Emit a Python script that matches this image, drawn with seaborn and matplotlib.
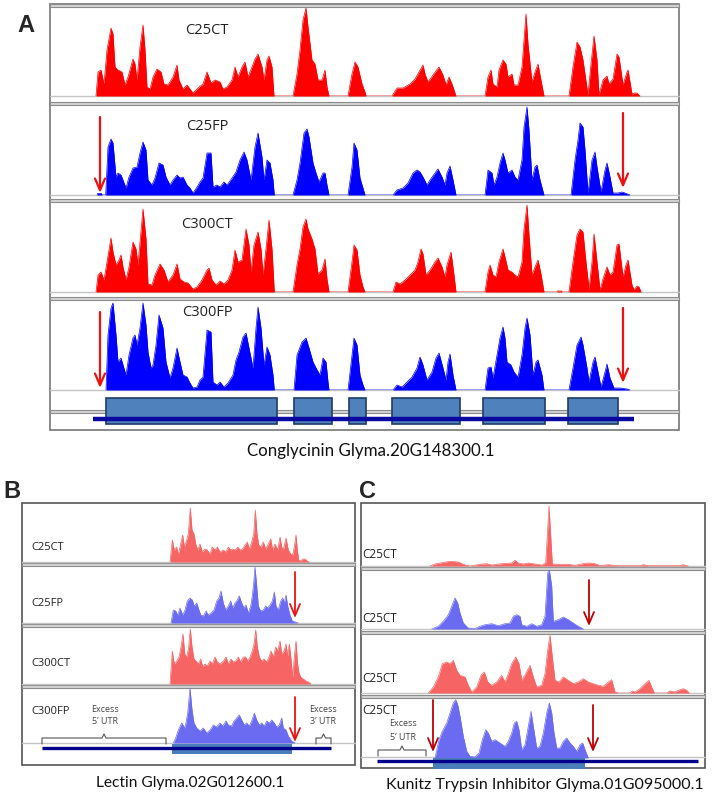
import matplotlib
matplotlib.use("Agg")
import matplotlib.pyplot as plt
from matplotlib.patches import Rectangle
import seaborn as sns

W, H = 714, 798

# coverage profiles: (position, read depth)
A_C25CT = [(96, 0), (98, 24), (101, 26), (104, 12), (107, 46), (111, 68), (113, 62), (115, 29), (118, 26),
           (122, 24), (125, 11), (128, 19), (133, 37), (135, 32), (137, 16), (140, 49), (143, 71), (145, 46),
           (147, 9), (150, 7), (153, 19), (157, 27), (161, 24), (164, 12), (168, 11), (173, 19), (177, 31),
           (179, 16), (183, 7), (187, 11), (190, 7), (193, 3), (198, 8), (203, 12), (207, 24), (211, 13),
           (215, 16), (220, 14), (223, 7), (227, 9), (232, 16), (235, 29), (238, 19), (242, 29), (245, 34),
           (248, 19), (252, 29), (255, 37), (258, 42), (262, 29), (264, 16), (267, 36), (269, 40), (272, 29),
           (274, 0),
           (293, 0), (297, 22), (300, 46), (303, 76), (306, 88), (308, 69), (312, 36), (315, 32), (318, 16),
           (322, 16), (325, 26), (327, 9), (329, 0),
           (348, 0), (352, 22), (355, 34), (358, 29), (362, 12), (365, 4), (366, 0),
           (392, 0), (397, 8), (403, 8), (410, 12), (415, 17), (419, 24), (423, 31), (425, 22), (428, 14),
           (433, 21), (439, 29), (443, 21), (446, 11), (449, 19), (452, 12), (456, 0),
           (485, 0), (488, 19), (491, 26), (493, 12), (497, 9), (499, 26), (503, 36), (506, 32), (508, 19),
           (512, 22), (514, 11), (518, 11), (522, 29), (524, 56), (526, 82), (528, 52), (532, 14), (535, 24),
           (538, 32), (540, 21), (544, 0),
           (569, 0), (573, 29), (577, 54), (580, 49), (583, 36), (588, 1), (591, 32), (594, 60), (597, 36),
           (599, 1), (603, 16), (607, 20), (609, 12), (613, 17), (617, 42), (619, 39), (623, 11), (627, 24),
           (628, 26), (632, 2), (635, 3), (637, 3), (640, 0)]

A_C25FP = [(97, 0), (97.5, 1.5), (101.5, 1.5), (102, 0),
           (105.7, 0), (108, 48), (111, 56), (113, 52), (116, 18), (118, 22), (121, 20), (123, 15), (126, 7),
           (129, 18), (133, 27), (137, 28), (140, 42), (143, 53), (146, 45), (148, 15), (152, 10), (155, 17),
           (159, 32), (163, 30), (166, 18), (170, 10), (173, 15), (177, 20), (180, 17), (183, 18), (187, 10),
           (190, 7), (193, 2), (197, 8), (200, 13), (203, 17), (207, 42), (211, 42), (213, 8), (217, 10),
           (220, 8), (224, 13), (227, 10), (232, 17), (236, 23), (240, 35), (244, 43), (247, 35), (251, 15),
           (255, 48), (258, 62), (262, 38), (264, 15), (267, 35), (270, 32), (273, 15), (274.3, 0),
           (293, 0), (297, 15), (300, 32), (304, 62), (307, 66), (309, 58), (313, 32), (316, 22), (319, 13),
           (323, 22), (325, 22), (327, 10), (329, 0),
           (348, 0), (352, 28), (354, 52), (357, 45), (360, 17), (363, 7), (365, 0),
           (393, 0), (397, 5), (403, 7), (408, 12), (413, 22), (417, 25), (420, 23), (423, 18), (427, 10),
           (430, 15), (435, 22), (438, 26), (442, 18), (445, 10), (447, 22), (450, 29), (453, 15), (456, 0),
           (485, 0), (488, 25), (492, 22), (494, 10), (497, 18), (500, 32), (503, 42), (505, 35), (508, 22),
           (512, 25), (515, 18), (518, 15), (522, 35), (524, 68), (527, 88), (529, 65), (532, 15), (535, 28),
           (537, 30), (540, 15), (544, 0),
           (571, 0), (575, 35), (578, 55), (580, 72), (583, 68), (585, 45), (588, 2), (592, 35), (595, 43),
           (597, 28), (601, 3), (605, 25), (607, 32), (610, 18), (613, 2), (618, 2), (622, 3), (625, 2),
           (630, 0)]

A_C300CT = [(96, 0), (98, 17), (101, 20), (104, 12), (107, 30), (111, 54), (113, 40), (116, 27), (119, 32),
            (121, 37), (123, 25), (126, 12), (129, 25), (133, 50), (136, 43), (138, 27), (141, 60), (143, 83),
            (146, 53), (148, 8), (152, 7), (155, 17), (160, 28), (164, 22), (168, 10), (173, 17), (177, 28),
            (180, 13), (184, 10), (188, 9), (193, 3), (197, 5), (202, 12), (207, 22), (209, 24), (212, 12),
            (216, 7), (220, 11), (224, 8), (228, 12), (232, 22), (235, 42), (238, 30), (242, 32), (246, 63),
            (249, 47), (251, 20), (254, 47), (258, 60), (261, 43), (263, 17), (266, 43), (269, 72), (272, 43),
            (274.3, 0),
            (293, 0), (297, 27), (300, 43), (303, 65), (306, 73), (308, 63), (312, 53), (315, 43), (318, 18),
            (322, 22), (325, 33), (327, 13), (329, 0),
            (348, 0), (352, 30), (354, 47), (357, 42), (360, 17), (363, 5), (365, 0),
            (393, 0), (396, 10), (400, 8), (405, 12), (410, 17), (415, 22), (418, 30), (421, 43), (423, 38),
            (426, 17), (430, 22), (435, 30), (438, 34), (442, 25), (445, 15), (447, 27), (451, 40), (454, 17),
            (456, 0),
            (485, 0), (488, 20), (490, 27), (493, 17), (496, 15), (499, 30), (503, 43), (505, 35), (508, 22),
            (512, 20), (515, 17), (518, 15), (522, 30), (524, 63), (527, 87), (529, 57), (532, 17), (535, 25),
            (538, 32), (541, 18), (544, 0),
            (557, 0), (557.5, 1), (561.5, 1), (562, 0),
            (569, 0), (573, 30), (577, 57), (580, 63), (583, 60), (586, 30), (589, 3), (592, 30), (594, 58),
            (597, 30), (600, 2), (603, 13), (607, 25), (610, 17), (613, 20), (617, 47), (619, 48), (623, 15),
            (626, 27), (628, 32), (632, 7), (634, 2), (637, 6), (639, 5), (641, 0)]

A_C300FP = [(106, 0), (108, 55), (111, 82), (113, 87), (116, 55), (118, 28), (121, 32), (123, 25), (126, 15),
            (129, 35), (133, 52), (135, 55), (137, 45), (140, 62), (143, 87), (146, 65), (148, 38), (151, 22),
            (153, 25), (156, 45), (159, 75), (163, 62), (166, 28), (170, 12), (173, 22), (177, 42), (180, 28),
            (183, 15), (187, 13), (190, 7), (193, 2), (197, 3), (200, 10), (203, 13), (207, 60), (211, 58),
            (213, 8), (217, 5), (220, 8), (224, 3), (228, 7), (233, 15), (236, 30), (239, 38), (243, 53),
            (246, 57), (249, 42), (253, 22), (256, 62), (258, 83), (261, 62), (264, 25), (267, 43), (270, 35),
            (273, 15), (274.3, 0),
            (294, 0), (297, 35), (302, 48), (306, 52), (309, 42), (313, 28), (316, 22), (320, 15), (323, 32),
            (326, 28), (328, 8), (329, 0),
            (348, 0), (352, 35), (354, 52), (357, 45), (360, 15), (363, 5), (365, 0),
            (393, 0), (397, 5), (402, 3), (407, 8), (412, 13), (417, 22), (420, 33), (423, 25), (427, 10),
            (432, 18), (436, 32), (439, 37), (443, 22), (446, 10), (448, 28), (450, 36), (453, 15), (456, 0),
            (485, 0), (488, 22), (491, 23), (493, 12), (497, 35), (500, 52), (503, 63), (505, 52), (507, 28),
            (511, 25), (514, 18), (518, 13), (522, 35), (525, 62), (527, 72), (530, 55), (533, 15), (536, 28),
            (538, 30), (542, 15), (544, 0),
            (569, 0), (573, 22), (577, 45), (581, 53), (583, 45), (587, 22), (589, 8), (593, 28), (595, 33),
            (598, 18), (601, 3), (605, 18), (607, 26), (610, 12), (614, 2), (620, 2), (627, 1), (630, 0)]

B_C25CT = [(170, 0), (172.3, 22), (174.3, 12), (176.7, 15), (178.3, 7), (180.7, 18), (182.7, 27), (184.3, 15),
           (186.7, 22), (188.3, 28), (190.3, 54), (192, 32), (194, 28), (195.7, 18), (197.7, 12), (200, 18),
           (202.3, 10), (205, 13), (207.3, 12), (210, 8), (212.3, 15), (215, 12), (217.3, 15), (220, 10),
           (223.3, 12), (226, 10), (228.3, 15), (230.7, 12), (232.7, 13), (235, 12), (237.7, 15), (240, 12),
           (242.3, 13), (245, 17), (247.3, 20), (249.3, 13), (251.7, 20), (253.7, 28), (255.3, 52), (257, 28),
           (258.7, 17), (261, 15), (263.3, 20), (265.7, 13), (268.3, 18), (270.7, 23), (272.7, 12), (275, 18),
           (277.7, 12), (280, 25), (281.7, 15), (283.3, 12), (286, 24), (288.3, 12), (290.7, 8), (292.7, 7),
           (294.3, 15), (296, 27), (297.3, 12), (298.7, 2), (300.7, 1), (302.7, 3), (305, 3), (307.3, 1),
           (309.3, 0)]

B_C25FP = [(171, 0), (173.3, 13), (175.7, 12), (177.7, 8), (180, 15), (182.7, 8), (185, 13), (187.3, 22),
           (190, 25), (192.3, 23), (194.3, 17), (196.7, 20), (198.3, 15), (200.7, 8), (203.3, 7), (206, 12),
           (208.3, 8), (211, 10), (214, 13), (216.7, 22), (219, 25), (221, 32), (223.3, 20), (225.7, 13),
           (228.3, 17), (230.7, 22), (232.7, 15), (235, 20), (237.3, 23), (239.3, 27), (241.7, 20), (244, 15),
           (246, 18), (248.3, 10), (250.7, 17), (252.3, 27), (253.7, 40), (255, 56), (256.7, 37), (258.3, 17),
           (260.7, 12), (263.3, 13), (265.7, 17), (267.7, 15), (270, 18), (272.3, 22), (274.3, 31), (276, 17),
           (278.3, 13), (280.7, 22), (282.7, 25), (284.3, 20), (286, 28), (287.7, 17), (290, 8), (292.3, 2),
           (296, 0.7), (298.3, 0)]

B_C300CT = [(170, 0), (172.3, 33), (174.3, 20), (176.7, 23), (179, 27), (181, 37), (183, 50), (184.7, 30),
            (186.7, 27), (188.7, 37), (190.3, 55), (192, 37), (194, 25), (196, 23), (198.3, 20), (200.7, 25),
            (202.7, 17), (205, 20), (207.3, 18), (210, 23), (212.3, 20), (215, 27), (217.3, 22), (220, 20),
            (223.3, 23), (226, 27), (228.3, 20), (231, 25), (233.3, 22), (235.7, 23), (238.3, 27), (240.7, 22),
            (243.3, 27), (245.7, 27), (247.7, 23), (250, 27), (252.3, 33), (254, 40), (255.7, 54), (257.3, 37),
            (259.3, 27), (261.7, 23), (264, 25), (266.7, 22), (269, 27), (271, 33), (273.3, 27), (275.7, 37),
            (277.7, 33), (280, 43), (281.7, 30), (284, 33), (286, 40), (287.7, 28), (289.3, 40), (291, 25),
            (292.7, 7), (294.3, 27), (296, 43), (297.3, 23), (298.7, 12), (300.7, 7), (303.3, 5), (306, 3),
            (308.3, 2), (311, 0)]

B_C300FP = [(173.3, 0), (175.7, 5), (178.3, 13), (181.7, 20), (185, 15), (187.7, 30), (190, 55), (192, 33),
            (194, 20), (196.7, 15), (200, 12), (203.3, 15), (206.7, 10), (210, 13), (213.3, 18), (216.7, 16),
            (220, 20), (222.7, 17), (226, 22), (228.3, 18), (231.7, 17), (234, 22), (236.7, 25), (239.3, 28),
            (241.7, 23), (244.3, 18), (246.7, 20), (249.3, 17), (251.7, 22), (254.3, 30), (256.7, 23),
            (259.3, 18), (261.7, 20), (264.3, 17), (266.7, 22), (269.3, 20), (271.7, 23), (274.3, 20),
            (276.7, 16), (279.3, 18), (281.7, 25), (283.3, 15), (286, 13), (288.3, 7), (291.7, 2), (295, 0)]

C_T1 = [(430, 0), (435, 2), (441.7, 3.3), (450, 4.7), (458.3, 4), (465, 1), (470, 0), (480, 1.7), (486.7, 2.3),
        (491.7, 1), (501.7, 2.3), (511.7, 3), (515, 5.7), (518.3, 3), (523.3, 2), (528.3, 3), (535, 2),
        (541.7, 1), (545.7, 3), (547.3, 30), (549, 60), (550.7, 30), (552.3, 2), (558.3, 1.7), (568.3, 1.7),
        (575, 0.7), (585, 2.7), (590, 3), (595, 2.3), (600, 0.5), (608.3, 1.3), (618.3, 0.3), (640, 0.3),
        (643.3, 1.3), (648.3, 0.3), (680, 0.3), (683.3, 1.3), (688.3, 0)]

C_T2 = [(431.7, 0), (438.3, 2.7), (443.3, 7.7), (448.3, 14.3), (451.7, 22.7), (455, 31), (457.7, 26), (460, 16),
        (463.3, 6), (468.3, 1), (475, 0.3), (480, 2.7), (485, 4.3), (491.7, 5.3), (498.3, 3.3), (505, 5.3),
        (510, 6), (513.3, 12.7), (516.7, 14.3), (520, 12.7), (521.7, 4.3), (526.7, 2.7), (531.7, 5.3),
        (536.7, 2.7), (541.7, 4.3), (545, 12.7), (547.7, 56), (549.3, 59.3), (551.7, 42.7), (553.3, 7.7),
        (558.3, 9.3), (563.3, 12), (568.3, 9.3), (573.3, 6), (578.3, 2.7), (583.3, 0)]

C_T3 = [(428.3, 0), (433.3, 6), (438.3, 16), (442.3, 29.3), (446.7, 31), (450, 29.3), (453.3, 32.7), (456.7, 22.7),
        (460, 17.7), (465, 16), (468.3, 7.7), (471.7, 1), (476.7, 6), (481, 17.7), (484.3, 21), (487.7, 11),
        (491.7, 7.7), (496.7, 11), (501.7, 17.7), (505, 11), (508.3, 19.3), (511.7, 29.3), (515.7, 36),
        (519, 29.3), (521.7, 12.7), (525.7, 19.3), (530, 27.7), (533.3, 16), (536.7, 6), (541.7, 7.7),
        (545, 19.3), (547.7, 42.7), (550, 57.7), (552.3, 36), (555, 12.7), (559, 11), (563.3, 16), (568.3, 12.7),
        (573.3, 9.3), (578.3, 11), (583.3, 14.3), (588.3, 11), (593.3, 9.3), (598.3, 7.7), (603.3, 6.7),
        (608.3, 11), (611.7, 13.3), (615, 1), (618.3, 0), (630, 0), (632.3, 2), (635, 1), (640, 4.3), (645, 9.3),
        (649, 12.7), (652.3, 4.3), (654.3, 0), (666.7, 0), (670, 2), (675, 1), (678.3, 2.7), (683.3, 4.3),
        (686.7, 2.7), (689.3, 0)]

C_T4 = [(435, 0), (439, 18.3), (442.3, 26.7), (446.7, 35), (450, 45), (453.3, 55), (455.7, 58.3), (457.7, 53.3),
        (460, 41.7), (463.3, 21.7), (466.7, 6.7), (470, 1.7), (475, 1), (479, 5), (482.3, 18.3), (485.7, 28.3),
        (488.3, 25), (491.7, 16.7), (495, 18.3), (500, 15), (505, 11.7), (508.3, 16.7), (511.7, 25), (514.3, 35),
        (516.7, 36.7), (519, 28.3), (521.7, 8.3), (525, 13.3), (528.3, 31.7), (531, 46.7), (533.3, 31.7),
        (536.7, 10), (540, 11.7), (543.3, 25), (546.7, 45), (549.3, 55), (551.7, 45), (554, 25), (556.7, 10),
        (560, 10), (563.3, 16.7), (566.7, 20), (570, 15), (573.3, 11.7), (576.7, 6.7), (580, 13.3), (582.7, 15),
        (585, 8.3), (588.3, 0)]

# gene models (exon start / end)
A_exon_start = [106, 294, 349, 392, 483, 568]
A_exon_end = [277, 332, 366, 460, 545, 618]
A_gene = (93, 634)
B_exon_start = [172]
B_exon_end = [292]
B_gene = (42, 331)
C_exon_start = [433]
C_exon_end = [585]
C_gene = (377, 698)

A_labels = ["C25CT", "C25FP", "C300CT", "C300FP"]
B_labels = ["C25CT", "C25FP", "C300CT", "C300FP"]
C_labels = ["C25CT", "C25CT", "C25CT", "C25CT"]

RED, BLUE = "#ff0000", "#0000ff"
LRED, LBLUE = "#f76464", "#6b6bf2"
ARROW, DARROW = "#ee1111", "#c00000"

sns.set_theme(style="white")
plt.rcParams['font.family'] = ['Open Sans', 'DejaVu Sans']

fig = plt.figure(figsize=(W / 100, H / 100), dpi=100)
ov = fig.add_axes([0, 0, 1, 1], zorder=0)
ov.set_xlim(0, W)
ov.set_ylim(H, 0)
ov.axis('off')


def px_axes(x0, y0, x1, y1, z=2):
    ax = fig.add_axes([x0 / W, 1 - y1 / H, (x1 - x0) / W, (y1 - y0) / H], zorder=z)
    ax.axis('off')
    return ax


def track(x0, x1, top, base, data, color):
    ax = px_axes(x0, top, x1, base)
    pos = [p for p, c in data]
    cov = [c for p, c in data]
    ax.fill_between(pos, cov, 0, color=color, lw=0)
    sns.lineplot(x=pos, y=cov, ax=ax, color=color, lw=0.5, sort=False, estimator=None)
    ax.set_xlim(x0, x1)
    ax.set_ylim(0, base - top)
    ax.axis('off')
    return ax


def arrow(ax, x, y_from, y_to, color, lw=1.6):
    ax.annotate('', xy=(x, y_to), xytext=(x, y_from), annotation_clip=False,
                arrowprops=dict(arrowstyle='->,head_length=0.7,head_width=0.3', color=color, lw=lw,
                                shrinkA=0, shrinkB=0))


def separator(x0, x1, y):
    ov.add_patch(Rectangle((x0, y), x1 - x0, 3, fc='#d4d4d4', ec='#8c8c8c', lw=0.8))


def baseline(x0, x1, y):
    ov.plot([x0, x1], [y, y], color='#c4c4c4', lw=1)


def brace(x0, x1, y, h=6):
    xm = (x0 + x1) / 2
    ov.plot([x0, x0, xm - 2, xm, xm + 2, x1, x1], [y + h, y, y, y - 4, y, y, y + h],
            color='#555555', lw=0.8)


# ---------------- panel A ----------------
ax0, ax1 = 50, 679
ov.add_patch(Rectangle((ax0, 4), ax1 - ax0, 426, fc='none', ec='#777777', lw=1.2))
for y in [4, 102, 199, 297, 410]:
    separator(ax0, ax1, y)
for y in [96, 195, 292, 390]:
    baseline(ax0, ax1, y)

a_tops = [7, 106, 202, 301]
a_bases = [96, 195, 292, 390]
a_data = [A_C25CT, A_C25FP, A_C300CT, A_C300FP]
a_cols = [RED, BLUE, RED, BLUE]
a_axes = []
for top, base, d, c in zip(a_tops, a_bases, a_data, a_cols):
    a_axes.append(track(ax0, ax1, top, base, d, c))
for lab, top in zip(A_labels, [30, 127, 224, 313]):
    ov.text(207, top, lab, ha='center', va='center', fontsize=10.5, color='#222222')

for t in [1, 3]:
    arrow(a_axes[t], 100, 78, 2, ARROW)
    arrow(a_axes[t], 623, 82, 7, ARROW)

gA = px_axes(ax0, 395, ax1, 428, z=3)
gA.set_xlim(ax0, ax1)
gA.set_ylim(428, 395)
gA.plot(A_gene, [419, 419], color='#0a0aa0', lw=3.2, solid_capstyle='butt')
for s, e in zip(A_exon_start, A_exon_end):
    gA.add_patch(Rectangle((s, 398), e - s, 26, fc='#4f81bd', ec='#1f3c66', lw=1.2))
gA.axis('off')

ov.text(371, 451, "Conglycinin Glyma.20G148300.1", ha='center', va='center', fontsize=12.2,
        family=['Lato', 'DejaVu Sans'], color='#111111')
ov.text(26, 26, "A", ha='center', va='center', fontsize=17, fontweight='bold',
        family=['Liberation Sans Narrow', 'Liberation Sans', 'DejaVu Sans'])

# ---------------- panel B ----------------
bx0, bx1 = 22, 355
ov.add_patch(Rectangle((bx0, 503), bx1 - bx0, 262, fc='none', ec='#555555', lw=1.2))
for y in [563, 624, 685]:
    separator(bx0, bx1, y)
for y in [562, 623, 684, 743]:
    baseline(bx0, bx1, y)
b_tops = [506, 567, 628, 688]
b_bases = [562, 623, 684, 743]
b_data = [B_C25CT, B_C25FP, B_C300CT, B_C300FP]
b_cols = [LRED, LBLUE, LRED, LBLUE]
b_axes = []
for top, base, d, c in zip(b_tops, b_bases, b_data, b_cols):
    b_axes.append(track(bx0, bx1, top, base, d, c))
for lab, y in zip(B_labels, [548, 603, 663, 712]):
    ov.text(31, y, lab, ha='left', va='center', fontsize=8, color='#222222')
arrow(b_axes[1], 295, 51, 5, ARROW, lw=1.3)
arrow(b_axes[3], 295, 46, 1, ARROW, lw=1.3)

gB = px_axes(bx0, 740, bx1, 760, z=3)
gB.set_xlim(bx0, bx1)
gB.set_ylim(760, 740)
gB.plot(B_gene, [748, 748], color='#00008b', lw=2.4, solid_capstyle='butt')
for s, e in zip(B_exon_start, B_exon_end):
    gB.add_patch(Rectangle((s, 744), e - s, 10, fc='#4a7ebb', ec='none'))
gB.axis('off')
ov.text(105, 710, "Excess", ha='center', va='center', fontsize=6.5, color='#444444')
ov.text(105, 722, "5\u2019 UTR", ha='center', va='center', fontsize=6.5, color='#444444')
brace(42, 166, 738)
ov.text(323, 710, "Excess", ha='center', va='center', fontsize=6.5, color='#444444')
ov.text(323, 722, "3\u2019 UTR", ha='center', va='center', fontsize=6.5, color='#444444')
brace(316, 331, 738)
ov.text(190, 783, "Lectin Glyma.02G012600.1", ha='center', va='center', fontsize=11.2,
        family=['Lato', 'DejaVu Sans'], color='#111111')
ov.text(12, 491, "B", ha='center', va='center', fontsize=17, fontweight='bold',
        family=['Liberation Sans Narrow', 'Liberation Sans', 'DejaVu Sans'])

# ---------------- panel C ----------------
cx0, cx1 = 361, 705
ov.add_patch(Rectangle((cx0, 503), cx1 - cx0, 265, fc='none', ec='#555555', lw=1.2))
for y in [567, 631, 695]:
    separator(cx0, cx1, y)
for y in [566, 629, 693, 757]:
    baseline(cx0, cx1, y)
c_tops = [505, 570, 634, 699]
c_bases = [566, 629, 693, 758]
c_data = [C_T1, C_T2, C_T3, C_T4]
c_cols = [LRED, LBLUE, LRED, LBLUE]
c_axes = []
for top, base, d, c in zip(c_tops, c_bases, c_data, c_cols):
    c_axes.append(track(cx0, cx1, top, base, d, c))
for lab, y in zip(C_labels, [555, 618, 678, 710]):
    ov.text(362, y, lab, ha='left', va='center', fontsize=8.5, color='#222222')
arrow(c_axes[1], 589, 49, 3, DARROW, lw=1.3)
arrow(c_axes[3], 433, 58, 6, DARROW, lw=1.3)
arrow(c_axes[3], 593, 53, 6, DARROW, lw=1.3)

gC = px_axes(cx0, 755, cx1, 772, z=3)
gC.set_xlim(cx0, cx1)
gC.set_ylim(772, 755)
gC.plot(C_gene, [761, 761], color='#00008b', lw=2.4, solid_capstyle='butt')
for s, e in zip(C_exon_start, C_exon_end):
    gC.add_patch(Rectangle((s, 758), e - s, 11, fc='#4a7ebb', ec='none'))
gC.axis('off')
ov.text(403, 724, "Excess", ha='center', va='center', fontsize=6.5, color='#444444')
ov.text(403, 737, "5\u2019 UTR", ha='center', va='center', fontsize=6.5, color='#444444')
brace(378, 426, 750)
ov.text(545, 785, "Kunitz Trypsin Inhibitor Glyma.01G095000.1", ha='center', va='center', fontsize=11.5,
        family=['Lato', 'DejaVu Sans'], color='#111111')
ov.text(367, 491, "C", ha='center', va='center', fontsize=17, fontweight='bold',
        family=['Liberation Sans Narrow', 'Liberation Sans', 'DejaVu Sans'])

fig.savefig("out.png", dpi=100)
